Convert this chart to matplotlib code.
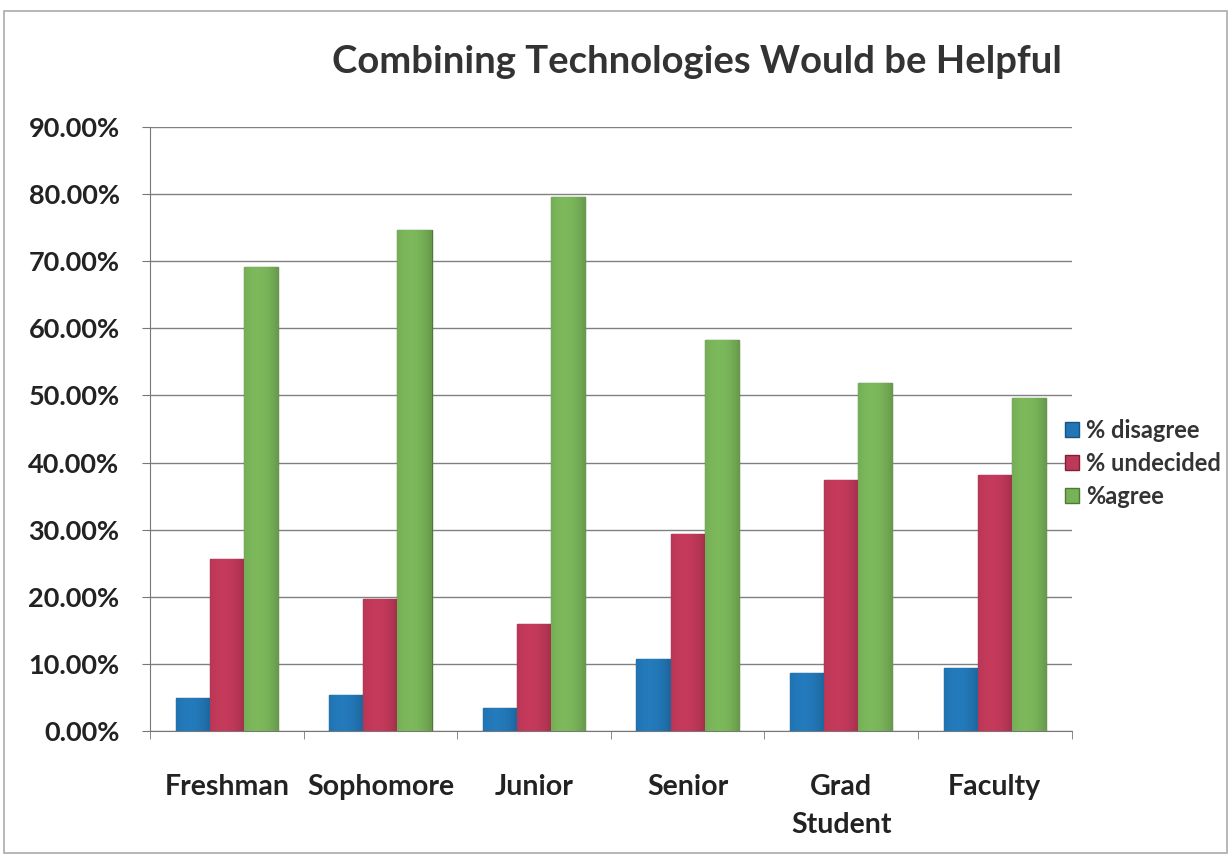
import matplotlib
matplotlib.use("Agg")
import matplotlib.pyplot as plt
from matplotlib.patches import Rectangle
from matplotlib.colors import to_rgb
from matplotlib.ticker import FuncFormatter, FixedLocator
import numpy as np

categories = ["Freshman", "Sophomore", "Junior", "Senior", "Grad\nStudent", "Faculty"]
series_names = ["% disagree", "% undecided", "%agree"]
disagree = [4.9, 5.3, 3.4, 10.8, 8.6, 9.4]
undecided = [25.7, 19.6, 15.9, 29.3, 37.4, 38.2]
agree = [69.2, 74.7, 79.5, 58.2, 51.9, 49.6]
colors = ["#2276b5", "#be3858", "#78b258"]
edge_colors = ["#17547f", "#7e2036", "#4b7a35"]

plt.rcParams["font.family"] = ["Lato", "DejaVu Sans"]

fig = plt.figure(figsize=(12.31, 8.56), dpi=100)
ax = fig.add_axes([0.1219, 0.146, 0.7486, 0.7056])

x = np.arange(len(categories))
width = 0.222
offsets = [-width, 0.0, width]


def shade_profile(base, n=64):
    """Horizontal cylinder-like shading for a bar colour."""
    rgb = np.array(to_rgb(base))
    t = np.linspace(0, 1, n)
    # brightest a little left of centre, darker towards the edges
    k = 1.0 - 0.55 * ((t - 0.38) / 0.62) ** 2
    light = np.clip(rgb * (0.70 + 0.34 * k)[:, None], 0, 1)
    return light[None, :, :]


handles = []
for vals, off, c, ec, name in zip([disagree, undecided, agree], offsets, colors, edge_colors, series_names):
    bars = ax.bar(x + off, vals, width=width, color=c, edgecolor=ec, linewidth=1.0,
                  label=name, zorder=3)
    grad = shade_profile(c)
    for b in bars:
        bx, by = b.get_x(), b.get_y()
        im = ax.imshow(grad, extent=(bx, bx + b.get_width(), by, by + b.get_height()),
                       aspect="auto", zorder=3.5, interpolation="bicubic")
        im.set_clip_path(b)
    handles.append(bars)

ax.set_xlim(-0.5, len(categories) - 0.5)
ax.set_ylim(0, 90)
ax.yaxis.set_major_locator(FixedLocator(np.arange(0, 91, 10)))
ax.yaxis.set_major_formatter(FuncFormatter(lambda v, p: f"{v:.2f}%"))
ax.grid(axis="y", color="#808080", linewidth=1.0, zorder=0)

ax.set_xticks(x)
ax.set_xticklabels(categories, fontsize=20.5, fontweight="bold", color="#222222",
                   linespacing=1.55)
ax.set_xticks(np.arange(-0.5, len(categories), 1.0), minor=True)
ax.tick_params(axis="x", which="major", length=0, pad=31)
ax.tick_params(axis="x", which="minor", length=6, color="#777777", direction="out")
ax.tick_params(axis="y", length=6, color="#777777", direction="out", pad=16,
               labelsize=19.5, labelcolor="#222222")
for lbl in ax.get_yticklabels():
    lbl.set_fontweight("bold")

for s in ["top", "right"]:
    ax.spines[s].set_visible(False)
ax.spines["left"].set_color("#777777")
ax.spines["bottom"].set_color("#777777")

fig.text(0.566, 0.928, "Combining Technologies Would be Helpful", ha="center", va="center",
         fontsize=27.5, fontweight="bold", color="#333333")

leg = fig.legend(handles=handles, labels=series_names, loc="center left",
                 bbox_to_anchor=(0.848, 0.459), frameon=False,
                 prop={"size": 17, "weight": "bold"}, handlelength=0.6,
                 handleheight=0.6, handletextpad=0.3, labelspacing=0.42)
for t in leg.get_texts():
    t.set_color("#333333")

fig.patches.append(Rectangle((0.003, 0.004), 0.994, 0.983, transform=fig.transFigure,
                             fill=False, edgecolor="#aaaaaa", linewidth=1.2))

fig.savefig("out.png", dpi=100)
